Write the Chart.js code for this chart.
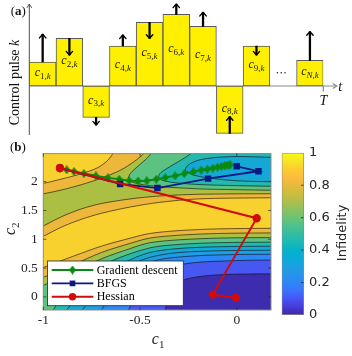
<!DOCTYPE html>
<html>
<head>
<meta charset="utf-8">
<title>Control pulses and infidelity landscape</title>
<script src="https://cdn.jsdelivr.net/npm/chart.js@4.4.1/dist/chart.umd.min.js"></script>
<style>
  body { margin: 0; background: #fff; }
  canvas { position: absolute; }
</style>
</head>
<body>
<canvas id="pulses" width="352" height="140" style="left:0;top:0"></canvas>
<canvas id="landscape" width="352" height="216" style="left:0;top:140px"></canvas>
<canvas id="colorbar" width="82" height="190" style="left:270px;top:140px"></canvas>
<script>
// panel (a): piecewise constant control amplitudes and their update arrows
const pulseNames = ['1', '2', '3', '4', '5', '6', '7', '8', '9', '', 'N'];
const pulseValues = [2.4, 4.77, -3.13, 4.0, 6.37, 7.17, 5.97, -4.73, 4.0, null, 2.57];
const arrowEnds = [5.17, 3.1, -3.9, 5.1, 4.77, 8.2, 7.37, -3.07, 3.1, null, 5.43];

// panel (b): optimisation paths in the (c1, c2) plane
const gdPath = [[-0.914, 2.236], [-0.879, 2.205], [-0.841, 2.175], [-0.790, 2.140], [-0.728, 2.100],
  [-0.666, 2.065], [-0.608, 2.040], [-0.556, 2.015], [-0.510, 2.010], [-0.465, 2.015], [-0.416, 2.040],
  [-0.369, 2.070], [-0.319, 2.100], [-0.271, 2.140], [-0.224, 2.170], [-0.184, 2.200], [-0.152, 2.215],
  [-0.124, 2.232], [-0.100, 2.250], [-0.080, 2.262], [-0.064, 2.272], [-0.052, 2.280], [-0.042, 2.285],
  [-0.034, 2.290]];
const bfgsPath = [[-0.914, 2.236], [-0.603, 1.960], [-0.410, 1.888], [-0.148, 2.052], [0.112, 2.180], [0.0, 2.265]];
const hessianPath = [[-0.914, 2.236], [0.103, 1.365], [-0.124, 0.040], [-0.004, -0.017]];

// infidelity contours; each shape is the region below one level
const level09Upper = [[-1.3, 1.80], [-1, 1.97], [-0.9, 2.05], [-0.8, 2.14], [-0.72, 2.24], [-0.67, 2.36],
  [-0.64, 2.49], [-0.62, 2.65], [-0.6, 2.9], [0.6, 2.9], [0.6, 1.72], [0.35, 1.72], [0.18, 1.72], [-0.2, 1.70],
  [-0.4, 1.64], [-0.55, 1.56], [-0.7, 1.45], [-0.8, 1.35], [-0.9, 1.22], [-1, 1.05], [-1.1, 0.87], [-1.3, 0.9]];
const level09Lower = [[-1.15, 0.33], [-1, 0.51], [-0.85, 0.70], [-0.7, 0.88], [-0.55, 1.02], [-0.45, 1.10],
  [-0.3, 1.15], [-0.1, 1.18], [0.18, 1.19], [0.35, 1.19], [0.6, 1.0], [0.6, -0.8], [-1.4, -0.8], [-1.4, 0.1]];
const level08Upper = [[-1.3, 1.65], [-1, 1.79], [-0.9, 1.86], [-0.8, 1.95], [-0.7, 2.06], [-0.6, 2.2],
  [-0.53, 2.35], [-0.48, 2.49], [-0.45, 2.65], [-0.42, 2.9], [0.6, 2.9], [0.6, 1.79], [0.35, 1.79], [0.18, 1.79],
  [-0.2, 1.78], [-0.4, 1.75], [-0.55, 1.70], [-0.7, 1.62], [-0.8, 1.53], [-0.9, 1.40], [-1, 1.23], [-1.1, 1.04], [-1.3, 1.1]];
const level08Lower = [[-1.15, 0.14], [-1, 0.34], [-0.85, 0.55], [-0.7, 0.77], [-0.55, 0.93], [-0.45, 1.02],
  [-0.3, 1.07], [-0.1, 1.10], [0.18, 1.11], [0.35, 1.11], [0.6, 0.9], [0.6, -0.8], [-1.4, -0.8], [-1.4, -0.1]];
const level07Upper = [[-0.38, 2.9], [-0.42, 2.60], [-0.46, 2.42], [-0.51, 2.27], [-0.55, 2.14], [-0.56, 2.04],
  [-0.52, 1.97], [-0.42, 1.92], [-0.2, 1.875], [0, 1.86], [0.18, 1.85], [0.35, 1.85], [0.6, 2.2], [0.6, 2.9]];
const level07Lower = [[-1.15, -0.05], [-1, 0.20], [-0.85, 0.42], [-0.7, 0.66], [-0.55, 0.84], [-0.45, 0.94],
  [-0.3, 0.99], [-0.1, 1.02], [0.18, 1.03], [0.35, 1.03], [0.6, 0.8], [0.6, -0.8], [-1.4, -0.8], [-1.4, -0.3]];
const level06Upper = [[-0.15, 2.9], [-0.20, 2.62], [-0.24, 2.48], [-0.30, 2.35], [-0.36, 2.23], [-0.40, 2.13],
  [-0.40, 2.05], [-0.34, 1.99], [-0.2, 1.95], [0, 1.93], [0.18, 1.92], [0.35, 1.92], [0.6, 2.2], [0.6, 2.9]];
const level06Lower = [[-1.0, -0.6], [-0.95, -0.23], [-0.88, 0.05], [-0.78, 0.35], [-0.65, 0.62], [-0.45, 0.85],
  [-0.3, 0.91], [-0.1, 0.94], [0.18, 0.95], [0.35, 0.95], [0.6, 0.7], [0.6, -0.8], [-1.1, -0.8]];
const level05Upper = [[0.55, 2.2], [0.35, 2.39], [0.18, 2.42], [0.0, 2.435], [-0.12, 2.415], [-0.20, 2.37],
  [-0.25, 2.29], [-0.265, 2.2], [-0.22, 2.11], [-0.1, 2.045], [0.0, 2.015], [0.18, 2.00], [0.35, 2.03], [0.55, 2.2]];
const level05Lower = [[-0.93, -0.6], [-0.88, -0.23], [-0.8, 0.05], [-0.7, 0.36], [-0.58, 0.60], [-0.45, 0.77],
  [-0.3, 0.84], [-0.1, 0.87], [0.18, 0.88], [0.35, 0.88], [0.6, 0.6], [0.6, -0.8], [-1.0, -0.8]];
const level04Lower = [[-0.85, -0.6], [-0.80, -0.23], [-0.72, 0.05], [-0.62, 0.38], [-0.52, 0.60], [-0.42, 0.71],
  [-0.3, 0.77], [-0.1, 0.80], [0.18, 0.81], [0.35, 0.81], [0.6, 0.5], [0.6, -0.8], [-0.9, -0.8]];
const level03Lower = [[-0.74, -0.6], [-0.70, -0.23], [-0.63, 0.07], [-0.55, 0.40], [-0.47, 0.57], [-0.38, 0.66],
  [-0.2, 0.715], [0, 0.735], [0.18, 0.74], [0.35, 0.74], [0.6, 0.4], [0.6, -0.8], [-0.8, -0.8]];
const level02Lower = [[-0.60, -0.6], [-0.56, -0.23], [-0.50, 0.10], [-0.43, 0.38], [-0.33, 0.53], [-0.2, 0.60],
  [0, 0.63], [0.18, 0.64], [0.35, 0.64], [0.6, 0.3], [0.6, -0.8], [-0.65, -0.8]];
const level01Lower = [[-0.40, -0.6], [-0.37, -0.23], [-0.34, 0.08], [-0.29, 0.27], [-0.2, 0.35], [-0.05, 0.39],
  [0.18, 0.40], [0.35, 0.40], [0.6, 0.2], [0.6, -0.8], [-0.45, -0.8]];

// contour levels and the colour of the band just below each one (parula)
const contourLevels = [1.0, 0.9, 0.8, 0.7, 0.6, 0.5, 0.4, 0.3, 0.2, 0.1];
const bandColors = ['#F9D12F', '#ECB73B', '#ABC042', '#5BC281', '#24B8AE', '#16A8D4', '#1F9CE2', '#2E87F7', '#4757F2', '#3E2CAE'];
const colorbarTicks = [0, 0.2, 0.4, 0.6, 0.8, 1];
const parulaStops = [[0, '#3E26A8'], [0.05, '#453BD9'], [0.1, '#4754F5'], [0.15, '#3B73FC'], [0.2, '#2E87F7'],
  [0.25, '#2694EA'], [0.3, '#1CA0E3'], [0.35, '#0AABD9'], [0.4, '#05B2C9'], [0.45, '#1ABAB5'], [0.5, '#33BDA1'],
  [0.55, '#4DC28C'], [0.6, '#6BC473'], [0.65, '#8CC25E'], [0.7, '#B0BF4C'], [0.75, '#CCBD3D'], [0.8, '#E8BA3D'],
  [0.85, '#FCBD3D'], [0.9, '#FCCC33'], [0.95, '#F5E626'], [1, '#F9FB0E']];

const SERIF = '"Liberation Serif", "Times New Roman", serif';
const SANS = '"DejaVu Sans", Verdana, sans-serif';
const gdColor = '#0b8a12', bfgsColor = '#0a1888', hessianColor = '#d20a0a';

// write a run of differently styled pieces (for subscripts)
function richText(ctx, parts, x, y, align) {
  let width = 0;
  for (const p of parts) { ctx.font = p.font; width += ctx.measureText(p.text).width; }
  let cx = align === 'center' ? x - width / 2 : x;
  for (const p of parts) {
    ctx.font = p.font;
    ctx.fillText(p.text, cx, y + (p.dy || 0));
    cx += ctx.measureText(p.text).width;
  }
}

// tall diamond marker for gradient descent
const diamond = document.createElement('canvas');
diamond.width = 7; diamond.height = 9;
const dctx = diamond.getContext('2d');
dctx.fillStyle = gdColor;
dctx.beginPath(); dctx.moveTo(3.5, 0); dctx.lineTo(7, 4.5); dctx.lineTo(3.5, 9); dctx.lineTo(0, 4.5); dctx.closePath(); dctx.fill();

// ---------- panel (a) ----------
const pulseDecor = {
  id: 'pulseDecor',
  beforeDatasetsDraw(chart) {
    const { ctx, chartArea: a, scales: { y } } = chart;
    const y0 = y.getPixelForValue(0);
    ctx.save();
    ctx.strokeStyle = '#8a8a8a'; ctx.lineWidth = 1.2;
    ctx.beginPath(); ctx.moveTo(a.left, y0); ctx.lineTo(a.right + 13, y0); ctx.stroke();
    ctx.beginPath(); ctx.moveTo(a.right + 9.5, y0 - 2.6); ctx.lineTo(a.right + 13.5, y0); ctx.lineTo(a.right + 9.5, y0 + 2.6); ctx.stroke();
    ctx.beginPath(); ctx.moveTo(a.right, y0); ctx.lineTo(a.right, y0 + 5.5); ctx.stroke();
    ctx.strokeStyle = '#4d4d4d'; ctx.lineWidth = 1;
    ctx.beginPath(); ctx.moveTo(a.left, a.bottom); ctx.lineTo(a.left, a.top); ctx.stroke();
    ctx.beginPath(); ctx.moveTo(a.left - 2.4, a.top + 3.8); ctx.lineTo(a.left, a.top); ctx.lineTo(a.left + 2.4, a.top + 3.8); ctx.stroke();
    ctx.restore();
  },
  afterDatasetsDraw(chart) {
    const { ctx, chartArea: a, scales: { x, y } } = chart;
    const shafts = chart.getDatasetMeta(0).data;
    const bars = chart.getDatasetMeta(1).data;
    const y0 = y.getPixelForValue(0);
    ctx.save();
    ctx.strokeStyle = '#000'; ctx.lineWidth = 1.4; ctx.lineJoin = 'round'; ctx.lineCap = 'round';
    arrowEnds.forEach((end, i) => {
      if (end === null) return;
      const px = shafts[i].x, tip = y.getPixelForValue(end);
      const back = end > pulseValues[i] ? 3.6 : -3.6;
      ctx.beginPath(); ctx.moveTo(px - 3.2, tip + back); ctx.lineTo(px, tip); ctx.lineTo(px + 3.2, tip + back); ctx.stroke();
    });
    ctx.fillStyle = '#1a1a1a'; ctx.textAlign = 'left'; ctx.textBaseline = 'alphabetic';
    pulseNames.forEach((name, i) => {
      if (pulseValues[i] === null) return;
      const el = bars[i];
      const cy = (el.y + el.base) / 2;
      const subFont = (/\d/.test(name) ? '' : 'italic ') + '9px ' + SERIF;
      richText(ctx, [
        { text: 'c', font: 'italic 12px ' + SERIF },
        { text: name, font: subFont, dy: 2.5 },
        { text: ',', font: '9px ' + SERIF, dy: 2.5 },
        { text: 'k', font: 'italic 9px ' + SERIF, dy: 2.5 }
      ], el.x, cy + 2, 'center');
    });
    // ellipsis in the empty slot
    const gap = pulseValues.indexOf(null);
    const gx = x.getPixelForValue(gap) - 2;
    [-3.8, 0, 3.8].forEach(d => { ctx.beginPath(); ctx.arc(gx + d, y0 - 13.3, 0.75, 0, 2 * Math.PI); ctx.fill(); });
    ctx.fillStyle = '#111';
    richText(ctx, [{ text: 't', font: 'italic 14px ' + SERIF }], a.right + 15, y0 + 4.7, 'left');
    richText(ctx, [{ text: 'T', font: 'italic 14px ' + SERIF }], a.right, y0 + 19, 'center');
    richText(ctx, [{ text: '(', font: '13px ' + SERIF }, { text: 'a', font: 'bold 13px ' + SERIF }, { text: ')', font: '13px ' + SERIF }], 10.7, 14.5, 'left');
    ctx.translate(19, (a.top + a.bottom) / 2 + 13);
    ctx.rotate(-Math.PI / 2);
    richText(ctx, [{ text: 'Control pulse ', font: '14px ' + SERIF }, { text: 'k', font: 'italic 14px ' + SERIF }], 0, 0, 'center');
    ctx.restore();
  }
};

new Chart(document.getElementById('pulses'), {
  type: 'bar',
  data: {
    labels: pulseNames,
    datasets: [
      {
        label: 'update',
        data: pulseValues.map((v, i) => v === null ? null : [v, arrowEnds[i]]),
        backgroundColor: '#000', barThickness: 1.6, grouped: false, order: 0
      },
      {
        label: 'pulse',
        data: pulseValues,
        backgroundColor: '#FFF000', borderColor: '#5a5a5a', borderWidth: 1, borderSkipped: false,
        barPercentage: 1, categoryPercentage: 1, grouped: false, order: 1
      }
    ]
  },
  options: {
    responsive: false, animation: false, devicePixelRatio: 1, events: [],
    layout: { padding: { left: 29.3, right: 28.7, top: 4, bottom: 5 } },
    plugins: { legend: { display: false }, tooltip: { enabled: false } },
    scales: { x: { display: false }, y: { display: false, min: -4.9, max: 8.2 } }
  },
  plugins: [pulseDecor]
});

// ---------- panel (b) ----------
const landscapeDecor = {
  id: 'landscapeDecor',
  beforeDatasetsDraw(chart) {
    const { ctx, chartArea: a } = chart;
    ctx.save();
    ctx.fillStyle = bandColors[0];
    ctx.fillRect(a.left, a.top, a.right - a.left, a.bottom - a.top);
    ctx.restore();
  },
  afterDatasetsDraw(chart) {
    const { ctx, chartArea: a, scales: { x, y } } = chart;
    ctx.save();
    ctx.strokeStyle = '#8c8c8c'; ctx.lineWidth = 1;
    ctx.strokeRect(a.left, a.top, a.right - a.left, a.bottom - a.top);
    ctx.strokeStyle = '#262626'; ctx.lineWidth = 0.7;
    y.ticks.forEach(t => {
      const py = y.getPixelForValue(t.value);
      ctx.beginPath(); ctx.moveTo(a.left, py); ctx.lineTo(a.left + 3, py); ctx.moveTo(a.right, py); ctx.lineTo(a.right - 3, py); ctx.stroke();
    });
    x.ticks.forEach(t => {
      const px = x.getPixelForValue(t.value);
      ctx.beginPath(); ctx.moveTo(px, a.bottom); ctx.lineTo(px, a.bottom - 3); ctx.moveTo(px, a.top); ctx.lineTo(px, a.top + 3); ctx.stroke();
    });

    // legend box
    const box = { left: a.left + 4.2, top: a.bottom - 49, right: a.left + 140, bottom: a.bottom - 4.3 };
    ctx.fillStyle = '#fff';
    ctx.fillRect(box.left, box.top, box.right - box.left, box.bottom - box.top);
    ctx.strokeStyle = '#262626'; ctx.lineWidth = 0.8;
    ctx.strokeRect(box.left, box.top, box.right - box.left, box.bottom - box.top);
    const entries = chart.data.datasets.filter(d => d.label);
    entries.forEach((d, i) => {
      const ry = box.top + 9 + i * 13.4;
      const x0 = box.left + 4.2, x1 = box.left + 45.8, xm = (x0 + x1) / 2;
      ctx.strokeStyle = d.borderColor; ctx.lineWidth = d.borderWidth;
      ctx.beginPath(); ctx.moveTo(x0, ry); ctx.lineTo(x1, ry); ctx.stroke();
      ctx.fillStyle = d.borderColor;
      if (d.pointStyle === 'circle') {
        ctx.beginPath(); ctx.arc(xm, ry, d.pointRadius + 0.5, 0, 2 * Math.PI); ctx.fill();
      } else if (d.pointStyle === 'rect') {
        const s = d.pointRadius * Math.SQRT1_2 + 0.5;
        ctx.fillRect(xm - s, ry - s, 2 * s, 2 * s);
      } else {
        ctx.drawImage(d.pointStyle, xm - d.pointStyle.width / 2, ry - d.pointStyle.height / 2);
      }
      ctx.fillStyle = '#000'; ctx.textAlign = 'left'; ctx.textBaseline = 'middle';
      ctx.font = '12px ' + SERIF;
      ctx.fillText(d.label, box.left + 49.2, ry + 0.5);
    });

    // axis titles and panel label
    ctx.fillStyle = '#262626'; ctx.textAlign = 'left'; ctx.textBaseline = 'alphabetic';
    richText(ctx, [{ text: 'c', font: 'italic 16px ' + SERIF }, { text: '1', font: '11px ' + SERIF, dy: 3.5 }],
      (a.left + a.right) / 2 + 1, a.bottom + 34, 'center');
    ctx.fillStyle = '#111';
    richText(ctx, [{ text: '(', font: '13px ' + SERIF }, { text: 'b', font: 'bold 13px ' + SERIF }, { text: ')', font: '13px ' + SERIF }], 10, 11, 'left');
    ctx.fillStyle = '#262626';
    ctx.translate(15, (a.top + a.bottom) / 2 - 3);
    ctx.rotate(-Math.PI / 2);
    richText(ctx, [{ text: 'c', font: 'italic 16px ' + SERIF }, { text: '2', font: '11px ' + SERIF, dy: 3.5 }], 0, 0, 'center');
    ctx.restore();
  }
};

const contourShapes = [
  [level09Upper, 0.9], [level09Lower, 0.9], [level08Upper, 0.8], [level08Lower, 0.8],
  [level07Upper, 0.7], [level07Lower, 0.7], [level06Upper, 0.6], [level06Lower, 0.6],
  [level05Upper, 0.5], [level05Lower, 0.5], [level04Lower, 0.4], [level03Lower, 0.3],
  [level02Lower, 0.2], [level01Lower, 0.1]
];

const contourDatasets = contourShapes.map(([points, level], i) => ({
  data: points,
  showLine: true,
  fill: 'shape',
  backgroundColor: bandColors[contourLevels.indexOf(level)],
  borderColor: 'rgba(10,10,10,0.75)',
  borderWidth: 0.8,
  pointRadius: 0,
  pointHitRadius: 0,
  tension: 0.3,
  order: 100 - i
}));

const tickFont = { family: SERIF, size: 13.5 };

new Chart(document.getElementById('landscape'), {
  type: 'scatter',
  data: {
    datasets: [
      {
        label: 'Gradient descent', data: gdPath, showLine: true, fill: false,
        borderColor: gdColor, backgroundColor: gdColor, borderWidth: 2,
        pointStyle: diamond, pointRadius: 3.5, order: 2
      },
      {
        label: 'BFGS', data: bfgsPath, showLine: true, fill: false,
        borderColor: bfgsColor, backgroundColor: bfgsColor, borderWidth: 1.8,
        pointStyle: 'rect', pointRadius: 3.3, order: 1
      },
      {
        label: 'Hessian', data: hessianPath, showLine: true, fill: false,
        borderColor: hessianColor, backgroundColor: hessianColor, borderWidth: 2,
        pointStyle: 'circle', pointRadius: 3.2, order: 0
      },
      ...contourDatasets
    ]
  },
  options: {
    responsive: false, animation: false, devicePixelRatio: 1, events: [],
    layout: { padding: { left: 0, right: 81, top: 11, bottom: 0 } },
    elements: { line: { capBezierPoints: false } },
    plugins: { legend: { display: false }, tooltip: { enabled: false } },
    scales: {
      x: {
        type: 'linear', min: -1, max: 0.177,
        afterFit: s => { s.height = 46; },
        grid: { display: false, drawTicks: false }, border: { display: false },
        ticks: { stepSize: 0.5, includeBounds: false, padding: 2, font: tickFont, color: '#262626', callback: v => String(v) }
      },
      y: {
        type: 'linear', min: -0.227, max: 2.486,
        afterFit: s => { s.width = 43.3; },
        grid: { display: false, drawTicks: false }, border: { display: false },
        ticks: { stepSize: 0.5, includeBounds: false, padding: 5.5, font: tickFont, color: '#262626', callback: v => String(v) }
      }
    }
  },
  plugins: [landscapeDecor]
});

// ---------- colour bar ----------
function parulaGradient(chart) {
  const a = chart.chartArea;
  if (!a) return bandColors[5];
  const g = chart.ctx.createLinearGradient(0, a.bottom, 0, a.top);
  parulaStops.forEach(([t, c]) => g.addColorStop(t, c));
  return g;
}

const colorbarDecor = {
  id: 'colorbarDecor',
  afterDatasetsDraw(chart) {
    const { ctx, chartArea: a, scales: { y } } = chart;
    ctx.save();
    ctx.strokeStyle = '#262626'; ctx.lineWidth = 0.8;
    y.ticks.forEach(t => {
      if (t.value <= 0 || t.value >= 1) return;
      const py = y.getPixelForValue(t.value);
      ctx.beginPath(); ctx.moveTo(a.right - 0.5, py); ctx.lineTo(a.right - 3, py); ctx.stroke();
    });
    ctx.fillStyle = '#262626';
    ctx.font = '13px ' + SANS; ctx.textAlign = 'center'; ctx.textBaseline = 'alphabetic';
    ctx.translate(a.right + 42, (a.top + a.bottom) / 2 - 1);
    ctx.rotate(-Math.PI / 2);
    ctx.fillText('Infidelity', 0, 0);
    ctx.restore();
  }
};

new Chart(document.getElementById('colorbar'), {
  type: 'bar',
  data: {
    labels: ['Infidelity'],
    datasets: [{
      data: [[colorbarTicks[0], colorbarTicks[colorbarTicks.length - 1]]],
      backgroundColor: ctx => parulaGradient(ctx.chart),
      borderColor: '#8a8a8a', borderWidth: 1, borderSkipped: false,
      barPercentage: 1, categoryPercentage: 1
    }]
  },
  options: {
    responsive: false, animation: false, devicePixelRatio: 1, events: [],
    layout: { padding: { left: 11.7, top: 11.7, right: 0, bottom: 15 } },
    plugins: { legend: { display: false }, tooltip: { enabled: false } },
    scales: {
      x: { display: false },
      y: {
        position: 'right', min: 0, max: 1,
        afterFit: s => { s.width = 48; },
        grid: { display: false, drawTicks: false }, border: { display: false },
        afterBuildTicks: s => { s.ticks = colorbarTicks.map(v => ({ value: v })); },
        ticks: { padding: 5, font: { family: SANS, size: 13 }, color: '#262626', callback: v => String(+v.toFixed(1)) }
      }
    }
  },
  plugins: [colorbarDecor]
});
</script>
</body>
</html>
